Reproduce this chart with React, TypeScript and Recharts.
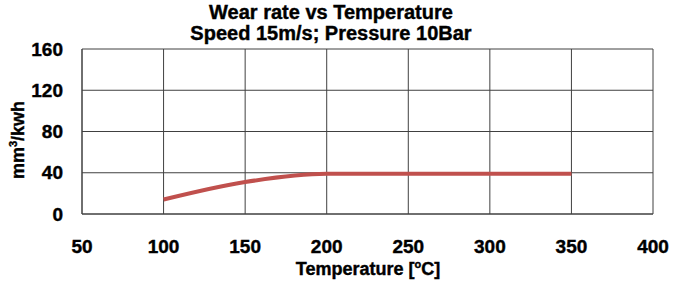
import { LineChart, Line, XAxis, YAxis, CartesianGrid, Label } from "recharts";

const temperatures = [100, 150, 200, 250, 300, 350];
const wearRate = [14, 31, 39, 39, 39, 39];
const xTicks = [50, 100, 150, 200, 250, 300, 350, 400];
const yTicks = [0, 40, 80, 120, 160];

const data = temperatures.map((t, i) => ({ temp: t, wear: wearRate[i] }));

const FONT = "'Liberation Sans', Arial, sans-serif";
// Excel-style heavy bold text
const heavy = { fontFamily: FONT, fontWeight: 700, fill: "#000", stroke: "#000", strokeWidth: 0.4 };

export default function App() {
  return (
    <div style={{ position: "absolute", left: 0, top: 0, width: 690, height: 286, background: "#fff" }}>
      <LineChart
        width={690}
        height={286}
        data={data}
        margin={{ top: 49, right: 37, left: 0, bottom: 0 }}
      >
        <CartesianGrid stroke="#404040" strokeWidth={1} horizontalValues={yTicks} verticalValues={xTicks} />
        <XAxis
          dataKey="temp"
          type="number"
          domain={[50, 400]}
          ticks={xTicks}
          height={72}
          axisLine={{ stroke: "#404040" }}
          tickLine={false}
          tickSize={0}
          tickMargin={26}
          tick={{ ...heavy, fontSize: 19 }}
        >
          <Label
            content={() => (
              <text x={368} y={275} textAnchor="middle" fontSize={18} {...heavy}>
                Temperature [<tspan fontSize={11} dy={-7}>o</tspan><tspan dy={7}>C]</tspan>
              </text>
            )}
          />
        </XAxis>
        <YAxis
          type="number"
          domain={[0, 160]}
          ticks={yTicks}
          width={82}
          axisLine={{ stroke: "#404040" }}
          tickLine={false}
          tickSize={0}
          tickMargin={19}
          tick={{ ...heavy, fontSize: 19 }}
        >
          <Label
            content={() => (
              <text
                x={24}
                y={140}
                transform="rotate(-90, 24, 140)"
                textAnchor="middle"
                fontSize={18}
                {...heavy}
              >
                mm<tspan fontSize={11} dy={-7}>3</tspan><tspan dy={7}>/kwh</tspan>
              </text>
            )}
          />
        </YAxis>
        <Line
          type="monotone"
          dataKey="wear"
          stroke="#C0504D"
          strokeWidth={4}
          dot={false}
          isAnimationActive={false}
        />
      </LineChart>
      <svg width={690} height={50} style={{ position: "absolute", left: 0, top: 0 }}>
        <text x={331} y={19} textAnchor="middle" fontSize={20} {...heavy}>
          Wear rate vs Temperature
        </text>
        <text x={331} y={40} textAnchor="middle" fontSize={20} {...heavy}>
          Speed 15m/s; Pressure 10Bar
        </text>
      </svg>
    </div>
  );
}
